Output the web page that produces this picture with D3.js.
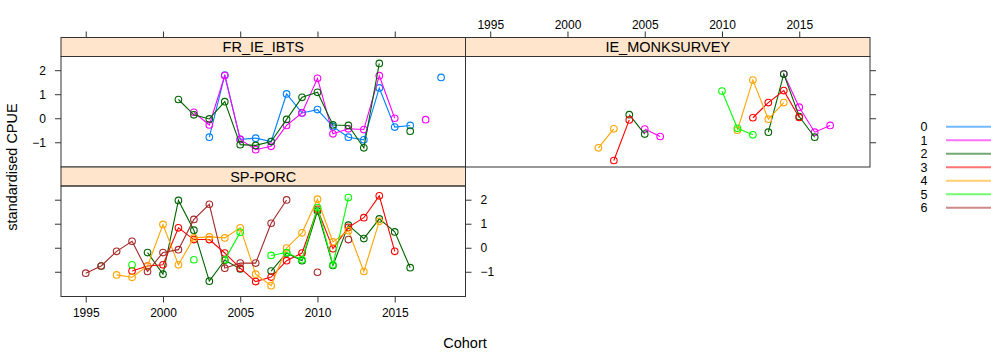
<!DOCTYPE html>
<html><head><meta charset="utf-8">
<script src="https://cdn.jsdelivr.net/npm/d3@7"></script>
<style>
body{margin:0;background:#fff;}
text{font-family:"Liberation Sans",Arial,sans-serif;fill:#000;}
</style></head>
<body><svg id="chart" width="991" height="356"></svg>
<script>
const years = [1995,1996,1997,1998,1999,2000,2001,2002,2003,2004,2005,2006,2007,2008,2009,2010,2011,2012,2013,2014,2015,2016,2017,2018];
const ages = ["0","1","2","3","4","5","6"];
const ageColors = ["#0080ff","#ff00ff","#006400","#ff0000","#ffa500","#00ff00","#a52a2a"];
const xTicks = [1995,2000,2005,2010,2015];
const yTicks = [-1,0,1,2];
const N = null;

// FR_IE_IBTS
const fr_age0 = [N,N,N,N,N,N,N,N,-0.79,1.80,-0.88,-0.83,-0.97,1.01,0.22,0.36,-0.35,-0.79,-0.90,1.26,-0.37,-0.30,N,1.70];
const fr_age1 = [N,N,N,N,N,N,N,0.25,-0.28,1.78,-0.88,-1.31,-1.17,-0.30,0.22,1.66,-0.65,-0.44,-0.47,1.77,0.00,N,-0.06,N];
const fr_age2 = [N,N,N,N,N,N,0.78,0.14,-0.03,0.69,-1.10,-1.13,-0.97,-0.05,0.87,1.08,-0.28,-0.30,-1.23,2.28,N,-0.54,N,N];

// IE_MONKSURVEY
const ie_age1 = [N,N,N,N,N,N,N,N,N,N,-0.45,-0.76,N,N,N,N,N,N,N,1.84,0.46,-0.58,-0.30,N];
const ie_age2 = [N,N,N,N,N,N,N,N,N,0.15,-0.66,N,N,N,N,N,N,N,-0.58,1.84,0.07,-0.79,N,N];
const ie_age3 = [N,N,N,N,N,N,N,N,-1.76,-0.07,N,N,N,N,N,N,N,0.02,0.65,1.15,0.03,N,N,N];
const ie_age4 = [N,N,N,N,N,N,N,-1.23,-0.44,N,N,N,N,N,N,N,-0.50,1.59,-0.04,0.65,N,N,N,N];
const ie_age5 = [N,N,N,N,N,N,N,N,N,N,N,N,N,N,N,1.13,-0.42,-0.69,N,N,N,N,N,N];

// SP-PORC
const sp_age2 = [N,-0.76,N,N,-0.20,-1.10,1.97,0.73,-1.39,-0.52,-0.88,N,-0.97,-0.22,-0.54,1.53,-0.74,0.94,0.38,1.20,0.66,-0.83,N,N];
const sp_age3 = [N,N,N,-0.97,-0.76,-0.71,0.83,0.34,0.34,-0.22,-0.85,-1.41,-1.22,-0.54,-0.22,1.60,-0.04,0.85,1.25,2.16,-0.15,N,N,N];
const sp_age4 = [N,N,-1.13,-1.23,-0.76,0.97,-0.71,0.41,0.45,0.41,0.83,-1.10,-1.58,-0.01,0.62,2.02,0.24,0.71,-0.99,1.10,N,N,N,N];
const sp_age5 = [N,N,N,-0.71,N,N,N,-0.50,N,-0.50,0.64,N,-0.32,-0.20,-0.50,1.67,-0.71,2.09,N,N,N,N,N,N];
const sp_age6 = [-1.06,-0.76,-0.15,0.27,-0.99,-0.20,-0.08,1.18,1.81,-0.85,-0.64,-0.64,1.02,1.99,N,-1.02,N,0.34,N,N,N,N,N,N];

const panels = [
  {name:"FR_IE_IBTS", col:0, row:0, series:[{age:0,v:fr_age0},{age:1,v:fr_age1},{age:2,v:fr_age2}]},
  {name:"IE_MONKSURVEY", col:1, row:0, series:[{age:1,v:ie_age1},{age:2,v:ie_age2},{age:3,v:ie_age3},{age:4,v:ie_age4},{age:5,v:ie_age5}]},
  {name:"SP-PORC", col:0, row:1, series:[{age:2,v:sp_age2},{age:3,v:sp_age3},{age:4,v:sp_age4},{age:5,v:sp_age5},{age:6,v:sp_age6}]}
];

const svg = d3.select("#chart");
const L = 61, PW = 404.5, T = 37.5, PH = 129.5, SH = 19;
const plotH = PH - SH;
const x = d3.scaleLinear().domain([1993.4, 2019.58]).range([0, PW]);
const y = d3.scaleLinear().domain([-2.03, 2.57]).range([plotH, 0]);

panels.forEach(p => {
  const px = L + p.col*PW, py = T + p.row*PH;
  const g = svg.append("g").attr("transform", `translate(${px},${py})`);
  // strip
  g.append("rect").attr("x",0).attr("y",0).attr("width",PW).attr("height",SH)
    .attr("fill","#ffe5cc").attr("stroke","#333").attr("stroke-width",1);
  g.append("text").attr("x",PW/2).attr("y",SH/2+5).attr("text-anchor","middle")
    .style("font-size","14.5px").text(p.name);
  const pg = g.append("g").attr("transform",`translate(0,${SH})`);
  pg.append("rect").attr("width",PW).attr("height",plotH).attr("fill","none")
    .attr("stroke","#333").attr("stroke-width",1);
  const line = d3.line().defined(d => d[1] !== null).x(d => x(d[0])).y(d => y(d[1]));
  p.series.forEach(s => {
    const pts = years.map((yr,i) => [yr, s.v[i]]);
    const c = ageColors[s.age];
    pg.append("path").datum(pts).attr("d", line).attr("fill","none")
      .attr("stroke", c).attr("stroke-width",1.1);
    pg.selectAll(null).data(pts.filter(d => d[1] !== null)).enter().append("circle")
      .attr("cx", d => x(d[0])).attr("cy", d => y(d[1])).attr("r",3.3)
      .attr("fill","none").attr("stroke", c).attr("stroke-width",1.1);
  });

  // axes
  const tickStyle = a => { a.select(".domain").remove(); a.selectAll("line").attr("stroke","#333"); a.selectAll("text").style("font-size","12px").style("font-family","'Liberation Sans',Arial,sans-serif"); };
  // top axis on top row (above strip)
  if (p.row === 0) {
    const ax = d3.axisTop(x).tickValues(xTicks).tickSize(6).tickPadding(3).tickFormat(p.col===1 ? d3.format("d") : () => "");
    g.append("g").call(ax).call(tickStyle);
  }
  if (p.row === 1) {
    const ax = d3.axisBottom(x).tickValues(xTicks).tickSize(6).tickPadding(6).tickFormat(d3.format("d"));
    pg.append("g").attr("transform",`translate(0,${plotH})`).call(ax).call(tickStyle);
  }
  if (p.col === 0) {
    const ax = d3.axisLeft(y).tickValues(yTicks).tickSize(6).tickPadding(9).tickFormat(p.row===0 ? d3.format("d") : () => "");
    pg.append("g").call(ax).call(tickStyle);
  }
  if (p.col === 1 || p.row === 1) {
    const ax = d3.axisRight(y).tickValues(yTicks).tickSize(6).tickPadding(9).tickFormat(p.row===1 ? d3.format("d") : () => "");
    pg.append("g").attr("transform",`translate(${PW},0)`).call(ax).call(tickStyle);
  }
});

// axis titles
svg.append("text").attr("transform","translate(17,167) rotate(-90)").attr("text-anchor","middle")
  .style("font-size","14.5px").text("standardised CPUE");
svg.append("text").attr("x",465).attr("y",348).attr("text-anchor","middle")
  .style("font-size","14.5px").text("Cohort");

// legend
const lg = svg.append("g");
ages.forEach((a,i) => {
  const ly = 126.7 + i*13.5;
  lg.append("text").attr("x",924).attr("y",ly+4.5).attr("text-anchor","middle")
    .style("font-size","12.5px").text(a);
  lg.append("line").attr("x1",946).attr("x2",995).attr("y1",ly).attr("y2",ly)
    .attr("stroke",ageColors[i]).attr("stroke-opacity",0.55).attr("stroke-width",2);
});
</script></body></html>
